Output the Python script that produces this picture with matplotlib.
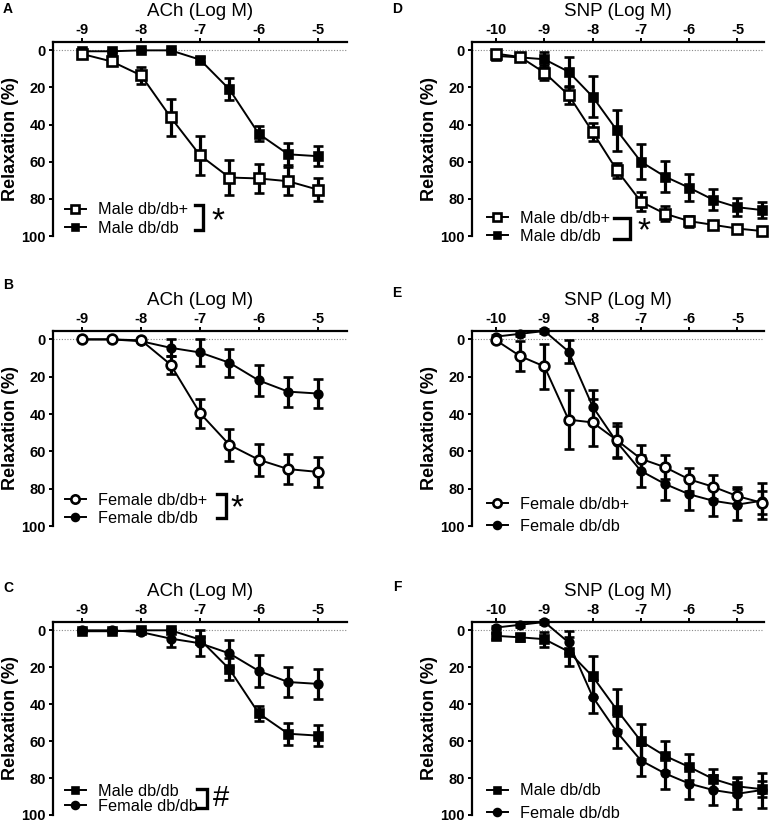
# Concentration-response curves, ACh and SNP, male/female db/db+ and db/db
import matplotlib
matplotlib.use("Agg")
import matplotlib.pyplot as plt
from matplotlib.lines import Line2D

plt.rcParams["font.family"] = ["Liberation Sans", "DejaVu Sans"]

# doses (log M)
ach_dose = [-9, -8.5, -8, -7.5, -7, -6.5, -6, -5.5, -5]
snp_dose = [-10, -9.5, -9, -8.5, -8, -7.5, -7, -6.5, -6, -5.5, -5, -4.5]

# ACh relaxation (%) mean and SEM
male_dbp_ach = [2, 6, 13.5, 36, 56.5, 68.5, 69, 70.5, 75]
male_dbp_ach_err = [1.5, 2, 4.5, 10, 10.5, 9.5, 8, 7.5, 6]
male_db_ach = [0.5, 0.5, 0, 0, 5, 21, 45, 56, 57]
male_db_ach_err = [0.5, 0.5, 0.5, 0.5, 1.5, 6, 4, 6, 5.5]
female_dbp_ach = [0, 0, 0.5, 13.5, 39.5, 56.5, 64.5, 69.5, 71]
female_dbp_ach_err = [0.5, 0.5, 0.5, 4.8, 7.8, 8.5, 8.5, 8.2, 8]
female_db_ach = [0, 0, 1, 4.5, 7, 12.5, 22, 28, 29]
female_db_ach_err = [0.5, 0.5, 0.5, 4.5, 7, 7.5, 8.5, 8, 8]

# SNP relaxation (%) mean and SEM
male_dbp_snp = [1.8, 3.6, 12, 24, 44, 64.5, 81.5, 88, 92, 94, 96, 97.3]
male_dbp_snp_err = [1, 1.5, 4, 5, 5, 4, 5, 4, 3, 2, 1.5, 1.5]
male_db_snp = [3, 3.8, 4.8, 11.5, 25, 43, 60, 68, 74, 80.5, 84.5, 86]
male_db_snp_err = [1.5, 2, 4, 8, 11, 11, 9.5, 8.3, 7.2, 5.6, 4.9, 4.5]
female_dbp_snp = [0.5, 9, 14.5, 43, 44.5, 54, 64, 68.5, 75, 79, 84, 87.5]
female_dbp_snp_err = [1, 8, 12, 16, 12.5, 9, 7.3, 6.5, 6, 6.5, 5, 6]
female_db_snp = [-1.5, -3, -4.5, 6.5, 36, 55, 70.5, 77.5, 83, 86.5, 88.5, 86.5]
female_db_snp_err = [1, 1, 1, 6, 9, 8.6, 8.6, 8.5, 8.5, 8, 8.5, 9.5]

ach_ticks = [-9, -8, -7, -6, -5]
snp_ticks = [-10, -9, -8, -7, -6, -5]

STYLE = {
    "open_sq": dict(marker="s", mfc="white"),
    "fill_sq": dict(marker="s", mfc="black"),
    "open_ci": dict(marker="o", mfc="white"),
    "fill_ci": dict(marker="o", mfc="black"),
}


def draw_series(ax, x, y, err, kind, ms):
    ax.errorbar(x, y, yerr=err, color="black", lw=1.4, elinewidth=2.3,
                capsize=3.3, capthick=2.3, ms=ms, mec="black", mew=1.9,
                clip_on=False, zorder=3, **STYLE[kind])


def setup_axes(ax, title, ticks, xlim):
    ax.set_xlim(*xlim)
    ax.set_ylim(100, -4.5)
    ax.axhline(0, color="#888888", lw=0.8, ls=(0, (1, 1.5)), zorder=1)
    ax.spines["right"].set_visible(False)
    ax.spines["bottom"].set_visible(False)
    ax.spines["top"].set_linewidth(1.6)
    ax.spines["left"].set_linewidth(1.6)
    ax.xaxis.tick_top()
    ax.xaxis.set_label_position("top")
    ax.set_xticks(ticks)
    ax.set_xticklabels([str(t) for t in ticks])
    ax.set_yticks([0, 20, 40, 60, 80, 100])
    ax.tick_params(direction="out", length=3, width=1.4, labelsize=10.5, pad=2)
    ax.tick_params(axis="x", pad=0.5)
    for lab in ax.get_xticklabels() + ax.get_yticklabels():
        lab.set_fontweight("bold")
    ax.set_xlabel(title, fontsize=13.5, labelpad=5)
    ax.set_ylabel("Relaxation (%)", fontsize=13, fontweight="bold")
    ax.yaxis.set_label_coords(-0.116, 0.5)


def add_legend(ax, entries, anchor, spacing):
    handles = []
    for label, kind, ms in entries:
        handles.append(Line2D([0], [0], color="black", lw=1.4, ms=ms, mec="black",
                              mew=1.9, label=label, **STYLE[kind]))
    ax.legend(handles=handles, loc="lower left", bbox_to_anchor=anchor,
              frameon=False, fontsize=11.7, handlelength=1.3, handletextpad=0.75,
              labelspacing=spacing, borderpad=0, borderaxespad=0, numpoints=1)


def add_bracket(ax, x0, x1, y0, y1, sym, sx, sy, size):
    ax.plot([x0, x1, x1, x0], [y0, y0, y1, y1], color="black", lw=2.4,
            transform=ax.transAxes, clip_on=False, solid_joinstyle="miter")
    ax.text(sx, sy, sym, transform=ax.transAxes, fontsize=size, ha="center",
            va="center")


fig = plt.figure(figsize=(7.7, 8.23), dpi=100)
W, H = 770.0, 823.0


def make_ax(left, top, right, bottom):
    return fig.add_axes([left / W, 1 - bottom / H, (right - left) / W, (bottom - top) / H])


axA = make_ax(53, 42, 347, 236)
axB = make_ax(53, 331, 347, 526)
axC = make_ax(53, 622, 347, 815)
axD = make_ax(472, 42, 764, 236)
axE = make_ax(472, 331, 764, 526)
axF = make_ax(472, 622, 764, 815)

ach_lim = (-9.5, -4.5)
snp_lim = (-10.5, -4.45)

# A
setup_axes(axA, "ACh (Log M)", ach_ticks, ach_lim)
draw_series(axA, ach_dose, male_db_ach, male_db_ach_err, "fill_sq", 6)
draw_series(axA, ach_dose, male_dbp_ach, male_dbp_ach_err, "open_sq", 6.5)
add_legend(axA, [("Male db/db+", "open_sq", 6), ("Male db/db", "fill_sq", 5)],
           (0.04, 0.0), 0.23)
add_bracket(axA, 0.483, 0.51, 0.16, 0.031, "*", 0.56, 0.075, 24)

# B
setup_axes(axB, "ACh (Log M)", ach_ticks, ach_lim)
draw_series(axB, ach_dose, female_db_ach, female_db_ach_err, "fill_ci", 5.5)
draw_series(axB, ach_dose, female_dbp_ach, female_dbp_ach_err, "open_ci", 7)
add_legend(axB, [("Female db/db+", "open_ci", 6), ("Female db/db", "fill_ci", 5)],
           (0.04, 0.0), 0.2)
add_bracket(axB, 0.557, 0.59, 0.164, 0.041, "*", 0.625, 0.09, 24)

# C
setup_axes(axC, "ACh (Log M)", ach_ticks, ach_lim)
draw_series(axC, ach_dose, female_db_ach, female_db_ach_err, "fill_ci", 5.5)
draw_series(axC, ach_dose, male_db_ach, male_db_ach_err, "fill_sq", 6)
add_legend(axC, [("Male db/db", "fill_sq", 5), ("Female db/db", "fill_ci", 5)],
           (0.04, 0.005), 0.0)
add_bracket(axC, 0.49, 0.525, 0.135, 0.035, "#", 0.57, 0.09, 21)

# D
setup_axes(axD, "SNP (Log M)", snp_ticks, snp_lim)
draw_series(axD, snp_dose, male_db_snp, male_db_snp_err, "fill_sq", 5.5)
draw_series(axD, snp_dose, male_dbp_snp, male_dbp_snp_err, "open_sq", 6.5)
add_legend(axD, [("Male db/db+", "open_sq", 6), ("Male db/db", "fill_sq", 5)],
           (0.05, -0.04), 0.18)
add_bracket(axD, 0.486, 0.541, 0.093, -0.015, "*", 0.59, 0.02, 24)

# E
setup_axes(axE, "SNP (Log M)", snp_ticks, snp_lim)
draw_series(axE, snp_dose, female_db_snp, female_db_snp_err, "fill_ci", 5.5)
draw_series(axE, snp_dose, female_dbp_snp, female_dbp_snp_err, "open_ci", 7)
add_legend(axE, [("Female db/db+", "open_ci", 6), ("Female db/db", "fill_ci", 5)],
           (0.05, -0.04), 0.42)

# F
setup_axes(axF, "SNP (Log M)", snp_ticks, snp_lim)
draw_series(axF, snp_dose, female_db_snp, female_db_snp_err, "fill_ci", 5.5)
draw_series(axF, snp_dose, male_db_snp, male_db_snp_err, "fill_sq", 5.5)
add_legend(axF, [("Male db/db", "fill_sq", 5), ("Female db/db", "fill_ci", 5)],
           (0.05, -0.03), 0.45)

# panel letters
for letter, px, py in [("A", 8, 9), ("B", 8, 285), ("C", 8, 588),
                       ("D", 397, 9), ("E", 397, 293), ("F", 397, 587)]:
    fig.text(px / W, 1 - py / H, letter, fontsize=10, fontweight="bold",
             ha="center", va="center")

fig.savefig("out.png", dpi=100)
